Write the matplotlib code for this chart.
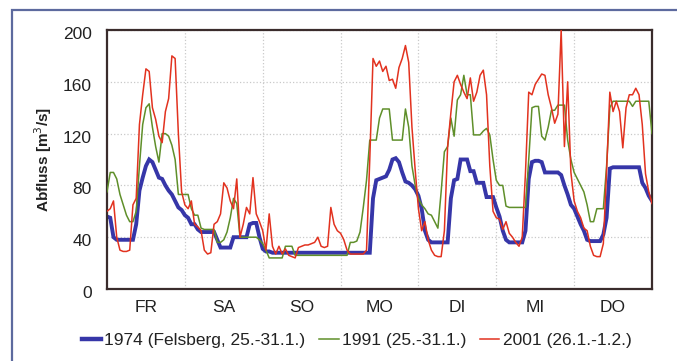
import numpy as np
import matplotlib
matplotlib.use('Agg')
import matplotlib.pyplot as plt
import matplotlib.transforms as mtransforms
from matplotlib.lines import Line2D
from matplotlib.patches import Rectangle

plt.rcParams['font.family'] = ['Liberation Sans', 'DejaVu Sans']

days = ['FR', 'SA', 'SO', 'MO', 'DI', 'MI', 'DO']
labels = ['1974 (Felsberg, 25.-31.1.)', '1991 (25.-31.1.)', '2001 (26.1.-1.2.)']

# Abfluss in m3/s, stündlich, ein Tag pro Zeile
q1974 = [
    56, 55, 40, 38, 38, 38, 38, 38, 38, 50, 76, 86, 95, 100, 98, 92, 86, 85, 80, 76, 73, 68, 63, 61,
    57, 55, 50, 50, 46, 44, 44, 44, 44, 44, 38, 32, 32, 32, 32, 40, 40, 40, 40, 40, 50, 51, 51, 40,
    31, 29, 29, 28, 28, 28, 28, 28, 28, 28, 28, 28, 28, 28, 28, 28, 28, 28, 28, 28, 28, 28, 28, 28,
    28, 28, 28, 28, 28, 28, 28, 28, 28, 28, 70, 84, 85, 86, 87, 92, 100, 101, 98, 90, 83, 82, 80, 77,
    72, 62, 45, 38, 36, 36, 36, 36, 36, 36, 70, 84, 85, 100, 100, 100, 91, 91, 82, 82, 82, 71, 71, 71,
    63, 56, 45, 38, 36, 36, 36, 36, 36, 45, 85, 98, 99, 99, 98, 90, 90, 90, 90, 90, 88, 80, 73, 65,
    62, 56, 50, 45, 38, 37, 37, 37, 37, 42, 55, 93, 94, 94, 94, 94, 94, 94, 94, 94, 94, 82, 78, 72,
    68,
]
q1991 = [
    75, 90, 90, 85, 73, 65, 57, 52, 52, 60, 95, 127, 140, 143, 125, 110, 98, 120, 120, 118, 111, 100, 73, 73,
    73, 73, 62, 57, 57, 47, 46, 46, 46, 46, 36, 36, 38, 44, 55, 70, 66, 40, 40, 40, 40, 40, 40, 38,
    35, 30, 24, 24, 24, 24, 24, 33, 33, 33, 26, 26, 26, 26, 26, 26, 26, 26, 26, 26, 26, 26, 26, 26,
    26, 26, 26, 36, 36, 37, 44, 63, 84, 115, 115, 115, 132, 139, 139, 139, 115, 115, 115, 115, 139, 125, 95, 80,
    70, 65, 62, 58, 57, 52, 47, 75, 106, 110, 132, 118, 146, 150, 165, 150, 150, 119, 119, 119, 122, 124, 119, 100,
    84, 80, 80, 64, 63, 63, 63, 63, 63, 63, 100, 140, 141, 141, 118, 115, 125, 138, 138, 142, 142, 142, 115, 100,
    90, 85, 80, 75, 65, 52, 52, 62, 62, 62, 95, 140, 145, 145, 145, 145, 145, 145, 141, 145, 145, 145, 145, 145,
    120,
]
q2001 = [
    60, 62, 68, 40, 30, 29, 29, 30, 65, 70, 127, 150, 170, 168, 140, 131, 118, 113, 137, 147, 180, 178, 120, 75,
    65, 62, 68, 50, 48, 45, 30, 27, 28, 50, 52, 58, 82, 78, 68, 62, 85, 40, 50, 63, 58, 86, 58, 52,
    45, 30, 58, 33, 27, 33, 27, 31, 26, 25, 24, 32, 33, 34, 34, 35, 36, 40, 33, 32, 33, 63, 50, 45,
    43, 38, 30, 27, 27, 27, 27, 27, 30, 100, 178, 172, 176, 168, 172, 161, 162, 155, 171, 178, 188, 175, 125, 92,
    62, 45, 52, 38, 30, 26, 25, 25, 45, 110, 136, 160, 165, 158, 152, 147, 163, 145, 152, 165, 169, 150, 95, 60,
    55, 54, 46, 52, 43, 40, 36, 33, 40, 90, 152, 150, 158, 162, 166, 165, 150, 140, 128, 135, 200, 110, 160, 90,
    68, 60, 55, 47, 45, 33, 26, 25, 25, 35, 91, 152, 137, 145, 137, 109, 140, 150, 150, 155, 150, 127, 89, 75,
    66,
]

c_blue = '#3636a8'
c_green = '#5f8f2a'
c_red = '#e2321f'

fig = plt.figure(figsize=(6.77, 3.61), dpi=100)
fig.patch.set_facecolor('white')
ax = fig.add_axes([107 / 677, 1 - 289 / 361, 545 / 677, 259 / 361])

hours = np.arange(len(q1974))
ax.plot(hours, q1991, color=c_green, lw=1.1, zorder=3)
ax.plot(hours, q2001, color=c_red, lw=1.1, zorder=4)
ax.plot(hours, q1974, color=c_blue, lw=2.8, zorder=2, solid_joinstyle='miter')

ax.set_xlim(0, 168)
ax.set_ylim(0, 200)
ax.set_yticks(range(0, 201, 40))
ax.set_xticks([24 * i + 12 for i in range(7)])
ax.set_xticklabels(days)
ax.set_xticks([24 * i for i in range(1, 7)], minor=True)
ax.tick_params(axis='both', which='both', length=0, labelsize=12.5, colors='#222222')
ax.tick_params(axis='y', pad=11)
ax.tick_params(axis='x', pad=8)
# Beschriftungen der y-Achse sitzen im Original etwas unterhalb der Gitterlinien
shift = mtransforms.ScaledTranslation(0, -3 / 100, fig.dpi_scale_trans)
for lab in ax.get_yticklabels():
    lab.set_transform(lab.get_transform() + shift)
ax.grid(axis='y', which='major', color='#c9c9c9', ls=':', lw=0.9)
ax.grid(axis='x', which='minor', color='#c9c9c9', ls=':', lw=0.9)
ax.set_axisbelow(True)
for s in ax.spines.values():
    s.set_color('#3a2c2c')
    s.set_linewidth(1.6)

ax.set_ylabel('Abfluss [m$^3$/s]', fontsize=11, fontweight='bold', color='#222222', labelpad=6)

handles = [Line2D([], [], color=c_blue, lw=3.2),
           Line2D([], [], color=c_green, lw=1.1),
           Line2D([], [], color=c_red, lw=1.1)]
fig.legend(handles, labels, loc='center', bbox_to_anchor=(0.527, 0.058), ncol=3,
           frameon=False, fontsize=12.5, handlelength=1.1, handletextpad=0.2,
           columnspacing=0.8, labelcolor='#222222')

# Rahmen um die Grafik
fig.patches.append(Rectangle((12 / 677, -0.05), 1.1, 1.05 - 10 / 361, transform=fig.transFigure,
                             fill=False, edgecolor='#5d6a9e', lw=1.6))

fig.savefig('out.png', dpi=100)
